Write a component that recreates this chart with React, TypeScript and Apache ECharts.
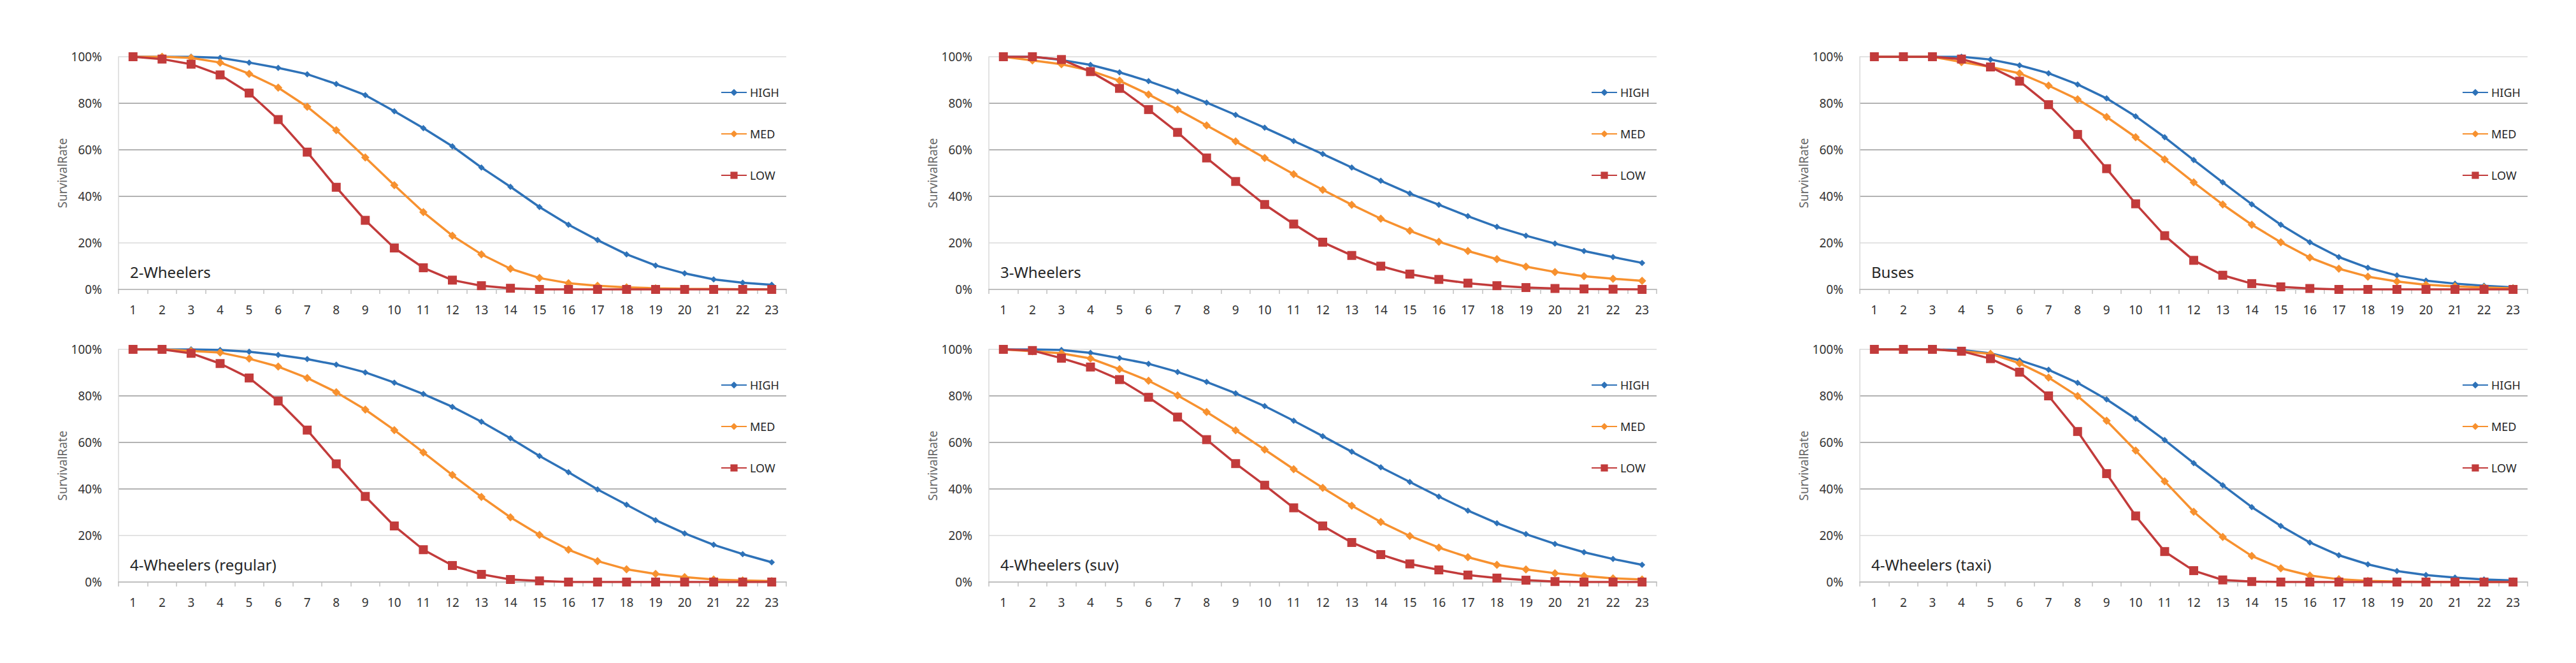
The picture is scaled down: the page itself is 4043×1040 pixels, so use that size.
import { useEffect, useRef } from 'react';
import * as echarts from 'echarts';

const years = ['1', '2', '3', '4', '5', '6', '7', '8', '9', '10', '11', '12', '13', '14', '15', '16', '17', '18', '19', '20', '21', '22', '23'];
const yTicks = [0, 20, 40, 60, 80, 100];
const seriesNames = ['HIGH', 'MED', 'LOW'];

// 2-Wheelers
const twoHigh = [100, 100, 100, 99.5, 97.5, 95.2, 92.5, 88.3, 83.5, 76.6, 69.3, 61.5, 52.4, 44.1, 35.4, 27.8, 21.2, 15.1, 10.3, 6.9, 4.3, 2.9, 2.0];
const twoMed = [100, 100, 99.5, 97.5, 92.7, 86.7, 78.5, 68.4, 56.7, 44.8, 33.2, 23.1, 15.1, 8.9, 4.9, 2.7, 1.6, 0.9, 0.5, 0.3, 0.2, 0.1, 0];
const twoLow = [100, 99, 96.8, 92.2, 84.4, 73, 59, 43.9, 29.7, 17.8, 9.3, 4, 1.6, 0.5, 0, 0, 0, 0, 0, 0, 0, 0, 0];

// 3-Wheelers
const threeHigh = [100, 100, 98.6, 96.5, 93.3, 89.5, 85.1, 80.3, 75, 69.5, 63.8, 58.2, 52.4, 46.7, 41.2, 36.4, 31.5, 26.9, 23.1, 19.7, 16.5, 13.9, 11.4];
const threeMed = [100, 98.4, 96.8, 94, 89.7, 83.8, 77.3, 70.5, 63.6, 56.5, 49.5, 42.8, 36.4, 30.4, 25.2, 20.5, 16.5, 13, 9.8, 7.5, 5.7, 4.6, 3.7];
const threeLow = [100, 100, 98.8, 93.6, 86.4, 77.3, 67.5, 56.5, 46.4, 36.5, 28.1, 20.3, 14.6, 10, 6.6, 4.3, 2.7, 1.6, 0.8, 0.4, 0.2, 0.1, 0];

// Buses
const busHigh = [100, 100, 100, 100, 98.8, 96.3, 92.9, 88.1, 82.1, 74.4, 65.4, 55.6, 46, 36.6, 27.8, 20.3, 13.9, 9.3, 6, 3.8, 2.5, 1.6, 0.9];
const busMed = [100, 100, 100, 97.7, 95.6, 92.9, 87.6, 81.7, 74.1, 65.4, 55.9, 46, 36.5, 27.8, 20.3, 13.7, 8.9, 5.5, 3.4, 2, 1.3, 0.8, 0.5];
const busLow = [100, 100, 100, 99, 95.6, 89.5, 79.4, 66.6, 51.9, 36.8, 23.1, 12.5, 6.1, 2.5, 1.1, 0.4, 0, 0, 0, 0, 0, 0, 0];

// 4-Wheelers (regular)
const regHigh = [100, 100, 100, 99.7, 99, 97.6, 95.8, 93.4, 90.1, 85.7, 80.8, 75.3, 68.9, 61.8, 54.2, 47.2, 39.8, 33.2, 26.6, 20.9, 16, 12, 8.5];
const regMed = [100, 100, 99.3, 98.6, 96, 92.6, 87.7, 81.6, 74.1, 65.3, 55.7, 46, 36.6, 27.8, 20.3, 13.9, 9, 5.5, 3.5, 2.1, 1.1, 0.7, 0.4];
const regLow = [100, 100, 98.3, 93.9, 87.7, 77.8, 65.3, 50.8, 36.8, 24.1, 13.9, 7.1, 3.3, 1.1, 0.5, 0, 0, 0, 0, 0, 0, 0, 0];

// 4-Wheelers (suv)
const suvHigh = [100, 100, 99.7, 98.5, 96.2, 93.8, 90.3, 86, 81.1, 75.6, 69.3, 62.7, 56, 49.3, 43, 36.7, 30.7, 25.3, 20.6, 16.4, 12.8, 9.9, 7.4];
const suvMed = [100, 99.2, 98.3, 96.1, 91.5, 86.5, 80.2, 73.1, 65.2, 56.9, 48.5, 40.5, 32.8, 25.8, 19.8, 14.8, 10.7, 7.4, 5.4, 3.8, 2.6, 1.6, 1.1];
const suvLow = [100, 99.5, 96.2, 92.4, 87, 79.4, 70.9, 61.2, 50.9, 41.6, 31.9, 24.1, 17, 11.8, 7.8, 5.2, 3, 1.7, 0.8, 0.2, 0, 0, 0];

// 4-Wheelers (taxi)
const taxiHigh = [100, 100, 100, 99.7, 98.3, 95.3, 91.2, 85.6, 78.5, 70.2, 61, 51.1, 41.6, 32.2, 24.1, 17, 11.5, 7.6, 4.7, 3, 1.9, 1.1, 0.7];
const taxiMed = [100, 100, 100, 99.2, 98.1, 94, 87.9, 79.9, 69.3, 56.5, 43.3, 30.2, 19.4, 11.2, 5.9, 2.8, 1.2, 0.5, 0.2, 0.1, 0, 0, 0];
const taxiLow = [100, 100, 100, 99.2, 96, 90.2, 80, 64.7, 46.6, 28.4, 13.1, 4.9, 0.9, 0.2, 0, 0, 0, 0, 0, 0, 0, 0, 0];

const panelTitles = ['2-Wheelers', '3-Wheelers', 'Buses', '4-Wheelers (regular)', '4-Wheelers (suv)', '4-Wheelers (taxi)'];
const panelData = [
  [twoHigh, twoMed, twoLow],
  [threeHigh, threeMed, threeLow],
  [busHigh, busMed, busLow],
  [regHigh, regMed, regLow],
  [suvHigh, suvMed, suvLow],
  [taxiHigh, taxiMed, taxiLow],
];

const colors = ['#2e72b8', '#f7912f', '#c23b3b'];
const symbols = ['diamond', 'diamond', 'rect'];
const symbolSizes = [10, 13, 14];

const colLeft = [186, 1552, 2919];
const rowTop = [89, 548];
const gridW = 1048;
const gridH = 365;
const font = '"Noto Sans", Lato, sans-serif';

export default function App() {
  const chartRef = useRef<HTMLDivElement>(null);

  useEffect(() => {
    document.body.style.margin = '0';
    if (!chartRef.current) return;
    const chart = echarts.init(chartRef.current, undefined, { renderer: 'svg' });

    const grids: any[] = [];
    const xAxes: any[] = [];
    const yAxes: any[] = [];
    const titles: any[] = [];
    const legends: any[] = [];
    const series: any[] = [];

    panelTitles.forEach((title, i) => {
      const left = colLeft[i % 3];
      const top = rowTop[Math.floor(i / 3)];
      grids.push({ left, top, width: gridW, height: gridH, containLabel: false });
      xAxes.push({
        type: 'category',
        gridIndex: i,
        data: years,
        boundaryGap: true,
        axisLine: { lineStyle: { color: '#bfbfbf', width: 2 } },
        axisTick: { show: true, length: 7, lineStyle: { color: '#bfbfbf', width: 1.5 } },
        axisLabel: { fontSize: 19, color: '#333', margin: 22, fontFamily: font, interval: 0 },
        splitLine: { show: false },
      });
      yAxes.push({
        type: 'value',
        gridIndex: i,
        min: yTicks[0],
        max: yTicks[yTicks.length - 1],
        interval: 20,
        name: 'SurvivalRate',
        nameLocation: 'middle',
        nameGap: 78,
        nameTextStyle: { fontSize: 19, color: '#666', fontFamily: font },
        axisLine: { show: true, lineStyle: { color: '#d9d9d9', width: 1.5 } },
        axisTick: { show: false },
        axisLabel: { fontSize: 19, color: '#333', margin: 26, formatter: '{value}%', fontFamily: font },
        splitLine: {
          show: true,
          lineStyle: { color: ['#bfbfbf', '#e3e3e3', '#b3b3b3', '#b3b3b3', '#b3b3b3', '#e3e3e3'], width: 2 },
        },
      });
      titles.push({
        text: title,
        left: left + 13,
        top: top + 320,
        textStyle: { fontSize: 24, fontWeight: 'normal', color: '#262626', fontFamily: font },
      });
      legends.push({
        orient: 'vertical',
        left: left + 940,
        top: top + 42,
        itemWidth: 40,
        itemHeight: 14,
        itemGap: 47,
        data: seriesNames,
        textStyle: { fontSize: 18, color: '#262626', fontFamily: font },
      });
      panelData[i].forEach((values, s) => {
        series.push({
          name: seriesNames[s],
          type: 'line',
          xAxisIndex: i,
          yAxisIndex: i,
          data: values,
          symbol: symbols[s],
          symbolSize: symbolSizes[s],
          showSymbol: true,
          lineStyle: { color: colors[s], width: 3.5 },
          itemStyle: { color: colors[s] },
          z: 2 + s,
        });
      });
    });

    chart.setOption({
      animation: false,
      backgroundColor: '#fff',
      textStyle: { fontFamily: font },
      title: titles,
      legend: legends,
      grid: grids,
      xAxis: xAxes,
      yAxis: yAxes,
      series,
    });

    return () => {
      chart.dispose();
    };
  }, []);

  return <div ref={chartRef} style={{ width: '4043px', height: '1040px' }}></div>;
}
